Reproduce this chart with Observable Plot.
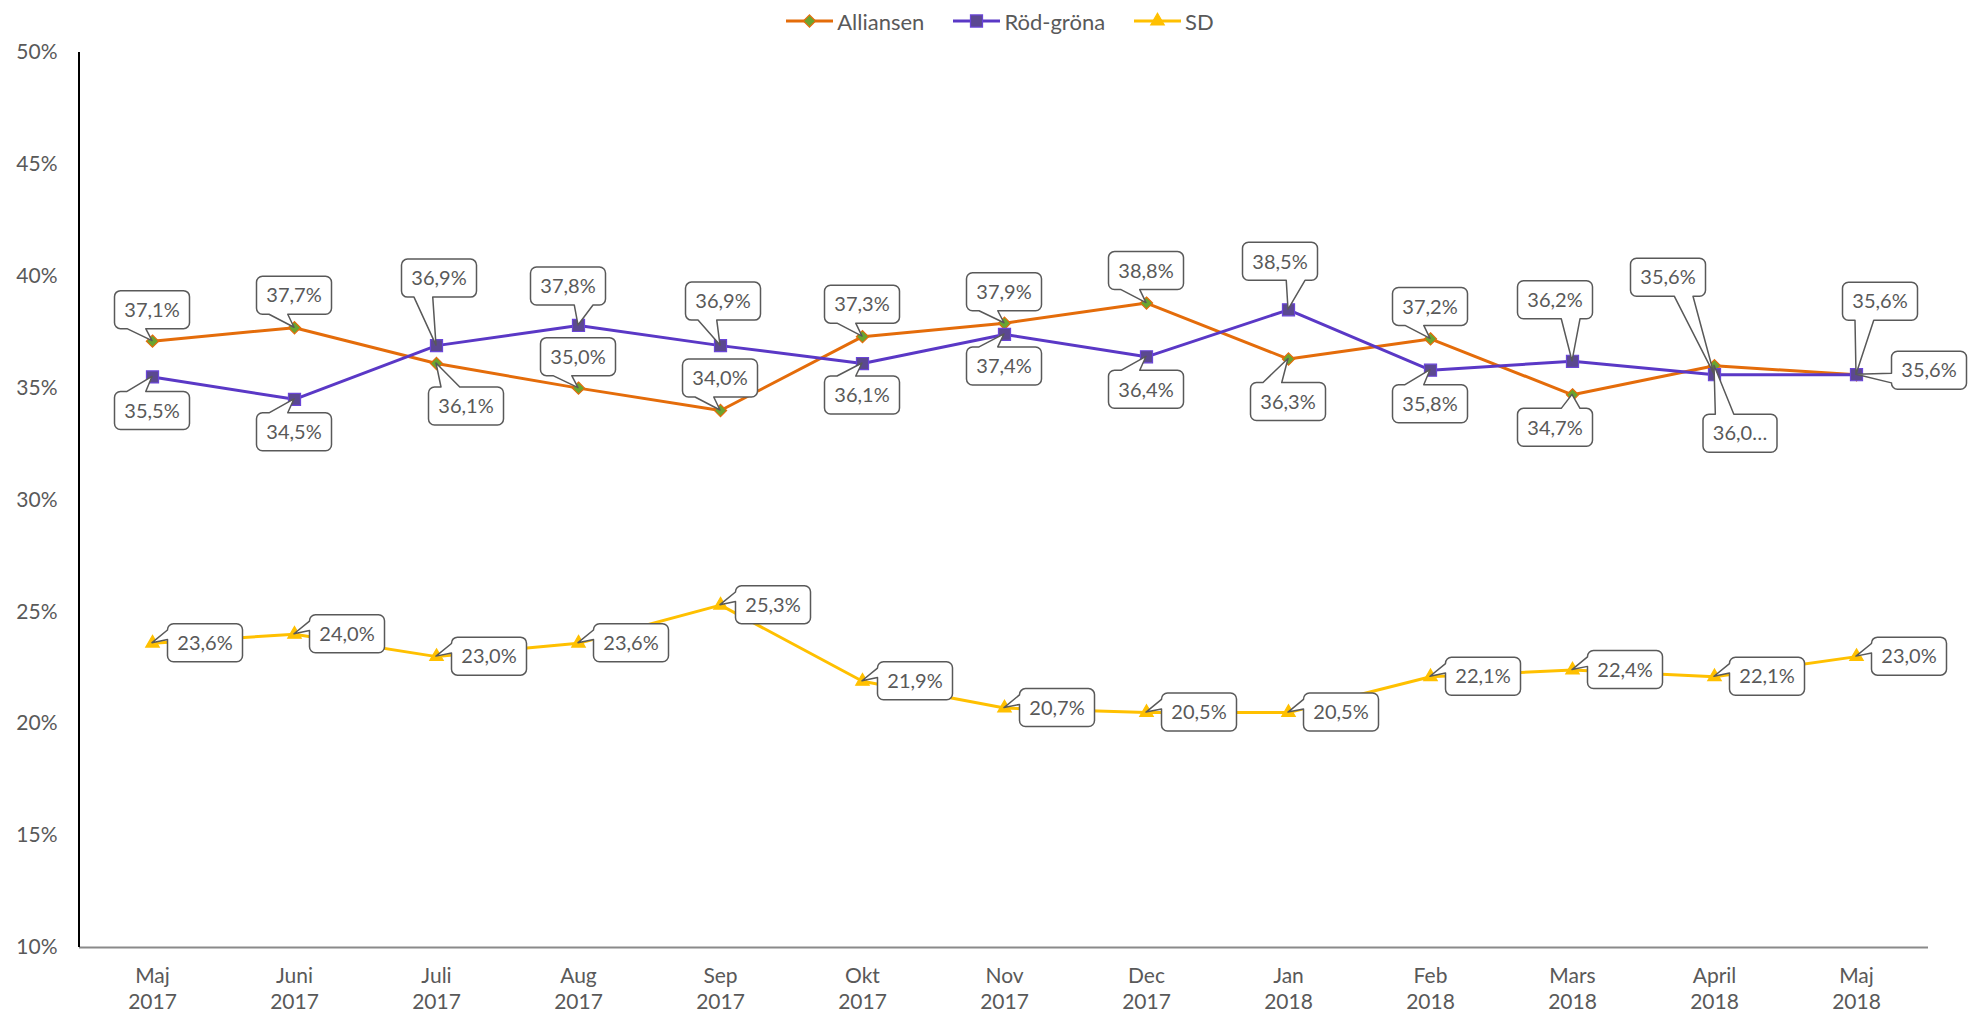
<!DOCTYPE html>
<html>
<head>
<meta charset="utf-8">
<script src="https://cdn.jsdelivr.net/npm/d3@7"></script>
<script src="https://cdn.jsdelivr.net/npm/@observablehq/plot@0.6"></script>
<style>
  body { margin: 0; background: #fff; font-family: Lato, "Open Sans", sans-serif; }
  #legend { box-sizing: border-box; height: 36px; padding-top: 6px; padding-left: 30px;
            display: flex; justify-content: center; align-items: center; gap: 29px;
            font-size: 22px; color: #595959; }
  .item { display: flex; align-items: center; gap: 4px; }
  .item svg { display: block; }
</style>
</head>
<body>
<div id="legend"></div>
<div id="chart"></div>
<script>
// ---- data ----
const months = ["Maj\n2017", "Juni\n2017", "Juli\n2017", "Aug\n2017", "Sep\n2017", "Okt\n2017", "Nov\n2017",
                "Dec\n2017", "Jan\n2018", "Feb\n2018", "Mars\n2018", "April\n2018", "Maj\n2018"];
const seriesNames = ["Alliansen", "Röd-gröna", "SD"];
const alliansen = [37.1, 37.7, 36.1, 35.0, 34.0, 37.3, 37.9, 38.8, 36.3, 37.2, 34.7, 36.0, 35.6];
const rodGrona  = [35.5, 34.5, 36.9, 37.8, 36.9, 36.1, 37.4, 36.4, 38.5, 35.8, 36.2, 35.6, 35.6];
const sd        = [23.6, 24.0, 23.0, 23.6, 25.3, 21.9, 20.7, 20.5, 20.5, 22.1, 22.4, 22.1, 23.0];
const yTicks = [10, 15, 20, 25, 30, 35, 40, 45, 50];

// ---- callout layout (offset of label box centre from its point, px) ----
const alliansenCallouts = [[0,-31],[0,-32],[30,43],[0,-31],[0,-32],[0,-32],[0,-31],[0,-32],[0,43],[0,-32],[-17,33],[26,68],[73,-4]];
const rodGronaCallouts  = [[0,34],[0,33],[3,-67],[-10,-39],[3,-44],[0,32],[0,32],[0,33],[-8,-48],[0,34],[-17,-61],[-46,-97],[24,-73]];
const sdCallouts        = months.map(() => [53, 0]);
const alliansenLabelOverride = {11: "36,0…"};

// ---- styles ----
const colors = {
  "Alliansen": {line: "#E46C0A", fill: "#6AA52F", stroke: "#E46C0A", symbol: "diamond2", r: 5.5},
  "Röd-gröna": {line: "#5A38C6", fill: "#5B4891", stroke: "#6A45D8", symbol: "square", r: 6.8},
  "SD":        {line: "#FFC000", fill: "#FFC000", stroke: "#FFC000", symbol: "triangle", r: 5}
};
const textColor = "#595959";

const fmt = v => v.toFixed(1).replace(".", ",") + "%";

const seriesList = [
  {name: "Alliansen", values: alliansen, offsets: alliansenCallouts, overrides: alliansenLabelOverride},
  {name: "Röd-gröna", values: rodGrona, offsets: rodGronaCallouts, overrides: {}},
  {name: "SD", values: sd, offsets: sdCallouts, overrides: {}}
];
const rows = seriesList.map(s => s.values.map((v, i) => ({series: s.name, month: months[i], value: v})));

// ---- legend ----
const legend = d3.select("#legend");
for (const name of seriesNames) {
  const c = colors[name];
  const item = legend.append("div").attr("class", "item");
  const sw = item.append("svg").attr("width", 47).attr("height", 20);
  sw.append("line").attr("x1", 0).attr("x2", 47).attr("y1", 10).attr("y2", 10)
    .attr("stroke", c.line).attr("stroke-width", 3);
  const typeMap = {diamond2: d3.symbolDiamond2, square: d3.symbolSquare, triangle: d3.symbolTriangle};
  sw.append("path").attr("transform", "translate(23.5,10)")
    .attr("d", d3.symbol(typeMap[c.symbol], Math.PI * c.r * c.r)())
    .attr("fill", c.fill).attr("stroke", c.stroke).attr("stroke-width", 1.2);
  item.append("span").text(name);
}

// ---- callout shape (Excel wedge round-rect callout) ----
function calloutPath(cx, cy, w, h, tx, ty, r) {
  const l = cx - w / 2, t = cy - h / 2, rt = cx + w / 2, b = cy + h / 2;
  const dxPos = tx - cx, dyPos = ty - cy;
  const inside = tx > l && tx < rt && ty > t && ty < b;
  const horiz = Math.abs(dxPos * h) - Math.abs(dyPos * w) > 0;
  const xg1 = dxPos > 0 ? 7 : 2, yg1 = dyPos > 0 ? 7 : 2;
  const x1 = l + w * xg1 / 12, x2 = l + w * (xg1 + 3) / 12;
  const y1 = t + h * yg1 / 12, y2 = t + h * (yg1 + 3) / 12;
  let p = `M${l + r},${t}`;
  if (!inside && !horiz && dyPos < 0) p += `L${x1},${t}L${tx},${ty}L${x2},${t}`;
  p += `L${rt - r},${t}A${r},${r} 0 0 1 ${rt},${t + r}`;
  if (!inside && horiz && dxPos > 0) p += `L${rt},${y1}L${tx},${ty}L${rt},${y2}`;
  p += `L${rt},${b - r}A${r},${r} 0 0 1 ${rt - r},${b}`;
  if (!inside && !horiz && dyPos > 0) p += `L${x2},${b}L${tx},${ty}L${x1},${b}`;
  p += `L${l + r},${b}A${r},${r} 0 0 1 ${l},${b - r}`;
  if (!inside && horiz && dxPos < 0) p += `L${l},${y2}L${tx},${ty}L${l},${y1}`;
  p += `L${l},${t + r}A${r},${r} 0 0 1 ${l + r},${t}Z`;
  return p;
}

const measureCtx = document.createElement("canvas").getContext("2d");
measureCtx.font = "20px Lato";

function calloutMark(index, scales, values, dimensions) {
  const g = d3.create("svg:g").attr("font-family", "Lato, sans-serif").attr("font-size", 20);
  for (const s of seriesList) {
    s.values.forEach((v, i) => {
      const px = scales.x(months[i]), py = scales.y(v);
      const [ox, oy] = s.offsets[i];
      const text = s.overrides[i] || fmt(v);
      const w = Math.round(measureCtx.measureText(text).width + 20), h = 38;
      g.append("path").attr("d", calloutPath(px + ox, py + oy, w, h, px, py, 6))
        .attr("fill", "white").attr("stroke", textColor).attr("stroke-width", 1.5)
        .attr("stroke-linejoin", "round");
      g.append("text").attr("x", px + ox).attr("y", py + oy).attr("dy", "0.36em")
        .attr("text-anchor", "middle").attr("fill", textColor).text(text);
    });
  }
  return g.node();
}

function leftAxisLine(index, scales, values, dimensions) {
  const {marginLeft, marginTop, height, marginBottom} = dimensions;
  return d3.create("svg:line")
    .attr("x1", marginLeft).attr("x2", marginLeft)
    .attr("y1", marginTop).attr("y2", height - marginBottom)
    .attr("stroke", "black").attr("stroke-width", 2).node();
}

const marks = [
  Plot.ruleY([10], {stroke: "#8a8a8a", strokeWidth: 2}),
  leftAxisLine,
  Plot.axisY({ticks: yTicks, tickSize: 0, tickPadding: 22, tickFormat: d => d + "%", fontSize: 21, fill: textColor}),
  Plot.axisX({tickSize: 0, tickPadding: 16, fontSize: 21, lineHeight: 1.28, fill: textColor})
];
seriesList.forEach((s, k) => {
  const c = colors[s.name];
  marks.push(Plot.lineY(rows[k], {x: "month", y: "value", stroke: c.line, strokeWidth: 3}));
  marks.push(Plot.dot(rows[k], {x: "month", y: "value", symbol: () => c.symbol, r: c.r,
    fill: c.fill, stroke: c.stroke, strokeWidth: 1.2}));
});
marks.push(calloutMark);

const chart = Plot.plot({
  width: 1970,
  height: 979,
  marginLeft: 79,
  marginRight: 42,
  marginTop: 16,
  marginBottom: 68,
  style: {fontFamily: "Lato, sans-serif", color: textColor, background: "white", overflow: "visible"},
  x: {type: "point", domain: months, padding: 0.5, label: null},
  y: {domain: [10, 50], label: null},
  symbol: {type: "identity"},
  marks
});
document.getElementById("chart").appendChild(chart);
</script>
</body>
</html>
